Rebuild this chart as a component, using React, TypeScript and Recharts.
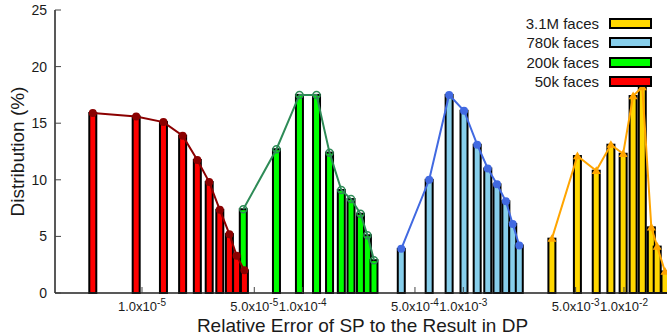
import React from 'react';
import {
  ComposedChart,
  Bar,
  Line,
  Cell,
  XAxis,
  YAxis,
  CartesianGrid,
  Legend
} from 'recharts';

// relative error (x) and share of faces in % (y)
const redX = [4.94e-6, 9.2e-6, 1.36e-5, 1.79e-5, 2.21e-5, 2.62e-5, 3.05e-5, 3.5e-5, 3.88e-5, 4.34e-5];
const redPct = [15.9, 15.6, 15.1, 13.9, 11.75, 9.8, 7.35, 5.2, 3.3, 2.0];

const greenX = [4.27e-5, 6.87e-5, 9.55e-5, 1.22e-4, 1.47e-4, 1.74e-4, 2.0e-4, 2.29e-4, 2.53e-4, 2.78e-4];
const greenPct = [7.4, 12.7, 17.5, 17.5, 12.4, 9.1, 8.3, 7.0, 5.1, 2.9];

const blueX = [4.11e-4, 6.13e-4, 8.16e-4, 1.01e-3, 1.22e-3, 1.42e-3, 1.62e-3, 1.84e-3, 2.03e-3, 2.23e-3];
const bluePct = [3.9, 10.0, 17.5, 16.1, 13.1, 11.0, 9.6, 8.1, 6.1, 4.2];

const yellowX = [3.56e-3, 5.13e-3, 6.72e-3, 8.29e-3, 9.88e-3, 1.14e-2, 1.3e-2, 1.48e-2, 1.61e-2, 1.8e-2];
const yellowPct = [4.8, 12.1, 10.8, 13.1, 12.3, 17.4, 18.2, 5.8, 4.1, 1.9];

const seriesNames = ['3.1M faces', '780k faces', '200k faces', '50k faces'];

const xTicks = [1e-5, 5e-5, 1e-4, 5e-4, 1e-3, 5e-3, 1e-2];
const xTickBase = ['1.0x10', '5.0x10', '1.0x10', '5.0x10', '1.0x10', '5.0x10', '1.0x10'];
const xTickExp = ['-5', '-5', '-4', '-4', '-3', '-3', '-2'];
const yTicks = [0, 5, 10, 15, 20, 25];

const X_DOMAIN = [2.874e-6, 1.934e-2];

// styles per series, same order as seriesNames (gnuplot plot order)
const STYLES = [
  { fill: '#FFD700', line: '#FFA500', marker: 'triangle' },
  { fill: '#87CEEB', line: '#4169E1', marker: 'dot' },
  { fill: '#00FF00', line: '#2E8B57', marker: 'ring' },
  { fill: '#FF0000', line: '#8B0000', marker: 'dot' }
];

const groups = [
  { xs: yellowX, ys: yellowPct },
  { xs: blueX, ys: bluePct },
  { xs: greenX, ys: greenPct },
  { xs: redX, ys: redPct }
];

const lineData = groups.map((g) => g.xs.map((x, i) => ({ x, value: g.ys[i] })));
const barRows = groups.flatMap((g, gi) =>
  g.xs.map((x, i) => ({ x, value: g.ys[i], group: gi }))
);

const TEXT = '#1a1a1a';

// fixed-width bar with black border, centred on the scaled x
const BarShape = (props: any) => {
  const { x, y, width, height, fill } = props;
  if (!height || height <= 0) return null;
  const cx = x + width / 2;
  return (
    <rect x={cx - 3.5} y={y} width={7} height={height} fill={fill} stroke="#000" strokeWidth={2} />
  );
};

const XTick = ({ x, y, payload, index }: any) => {
  const i = xTicks.indexOf(payload.value);
  return (
    <text x={x} y={y} dy={10} textAnchor="middle" fontSize={13} fill={TEXT} key={index}>
      <tspan>{xTickBase[i]}</tspan>
      <tspan dy={-5} fontSize={10}>{xTickExp[i]}</tspan>
    </text>
  );
};

const makeDot = (kind: string, color: string) => (p: any) => {
  const { cx, cy, index } = p;
  if (kind === 'triangle') {
    const s = 4.5;
    return (
      <polygon
        key={`t-${index}`}
        points={`${cx},${cy - s} ${cx - s},${cy + s * 0.7} ${cx + s},${cy + s * 0.7}`}
        fill={color}
      />
    );
  }
  if (kind === 'ring') {
    return <circle key={`r-${index}`} cx={cx} cy={cy} r={3.5} fill="none" stroke={color} strokeWidth={1.5} />;
  }
  return <circle key={`d-${index}`} cx={cx} cy={cy} r={4} fill={color} />;
};

const LegendBox = () => (
  <div style={{ display: 'flex', flexDirection: 'column', alignItems: 'flex-end' }}>
    {seriesNames.map((name, i) => (
      <div key={name} style={{ display: 'flex', alignItems: 'center', height: 19.3 }}>
        <span style={{ fontSize: 15, color: TEXT, lineHeight: '15px' }}>{name}</span>
        <span
          style={{
            display: 'inline-block',
            width: 39,
            height: 7,
            marginLeft: 10,
            background: STYLES[i].fill,
            border: '2px solid #000'
          }}
        />
      </div>
    ))}
  </div>
);

export default function App() {
  return (
    <div
      style={{
        position: 'fixed',
        left: 0,
        top: 0,
        width: 667,
        height: 336,
        overflow: 'hidden',
        background: '#fff',
        fontFamily: '"Liberation Sans", Arial, sans-serif'
      }}
    >
      <ComposedChart
        width={680}
        height={336}
        data={barRows}
        margin={{ top: 10, right: 10, bottom: 0, left: 0 }}
      >
        <CartesianGrid horizontal={false} vertical={false} fill="#fff" />
        <XAxis
          dataKey="x"
          type="number"
          scale="log"
          domain={X_DOMAIN}
          allowDataOverflow
          ticks={xTicks}
          tick={<XTick />}
          tickSize={-6}
          tickMargin={14}
          height={43}
          interval={0}
          axisLine={{ stroke: '#222', strokeWidth: 1.5 }}
          tickLine={{ stroke: '#444' }}
          label={{
            value: 'Relative Error of SP to the Result in DP',
            position: 'insideBottom',
            offset: 4,
            fontSize: 19,
            fill: TEXT
          }}
        />
        <XAxis
          xAxisId="top"
          orientation="top"
          type="number"
          scale="log"
          domain={X_DOMAIN}
          allowDataOverflow
          ticks={xTicks}
          tick={false}
          tickSize={-6}
          height={0}
          axisLine={{ stroke: '#222', strokeWidth: 1.5 }}
          tickLine={{ stroke: '#444' }}
        />
        <YAxis
          type="number"
          domain={[0, 25]}
          ticks={yTicks}
          width={55}
          tickSize={-6}
          tickMargin={14}
          interval={0}
          tick={{ fontSize: 14, fill: TEXT }}
          axisLine={{ stroke: '#222', strokeWidth: 1.5 }}
          tickLine={{ stroke: '#444' }}
          label={{
            content: (p: any) => {
              const vb = p.viewBox;
              const cx = vb.x + 17;
              const cy = vb.y + vb.height / 2;
              return (
                <text
                  x={cx}
                  y={cy}
                  transform={`rotate(-90 ${cx} ${cy})`}
                  textAnchor="middle"
                  dominantBaseline="central"
                  fontSize={19}
                  fill={TEXT}
                >
                  Distribution (%)
                </text>
              );
            }
          }}
        />
        <Legend
          content={<LegendBox />}
          wrapperStyle={{ top: 14, left: 470, width: 182, height: 0 }}
        />
        <Bar dataKey="value" shape={<BarShape />} isAnimationActive={false}>
          {barRows.map((r, i) => (
            <Cell key={i} fill={STYLES[r.group].fill} />
          ))}
        </Bar>
        {lineData.map((d, gi) => (
          <Line
            key={seriesNames[gi]}
            data={d}
            dataKey="value"
            type="linear"
            stroke={STYLES[gi].line}
            strokeWidth={2}
            dot={makeDot(STYLES[gi].marker, STYLES[gi].line)}
            activeDot={false}
            legendType="none"
            isAnimationActive={false}
          />
        ))}
      </ComposedChart>
    </div>
  );
}
